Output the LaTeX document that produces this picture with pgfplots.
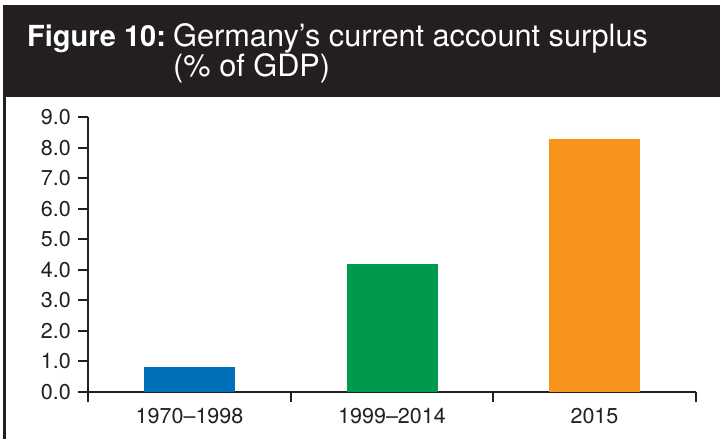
\documentclass[border=0pt]{standalone}
\usepackage{pgfplots}
\pgfplotsset{compat=1.18}
\usepackage{fontspec}
\setmainfont{TeX Gyre Heros}
\definecolor{darkc}{HTML}{231F20}
\definecolor{cblue}{HTML}{0070BA}
\definecolor{cgreen}{HTML}{009A4E}
\definecolor{corange}{HTML}{F7941E}
\begin{document}
\begin{tikzpicture}
\useasboundingbox (0pt,0pt) rectangle (720pt,-439pt);
\begin{scope}[x=1pt,y=-1pt]
\fill[darkc] (3,5) rectangle (720,97);
\draw[darkc, line width=3pt] (4.5,96) -- (4.5,439);
\node[anchor=base west, inner sep=0pt, text=white, font=\fontsize{29}{29}\selectfont\bfseries] at (27,46) {Figure 10:};
\node[anchor=base west, inner sep=0pt, text=white, font=\fontsize{30.7}{30.7}\selectfont] at (173,46) {Germany’s current account surplus};
\node[anchor=base west, inner sep=0pt, text=white, font=\fontsize{30.7}{30.7}\selectfont] at (173,76) {(\% of GDP)};
\end{scope}
\begin{axis}[
  at={(88.3pt,-391.7pt)}, anchor=south west,
  scale only axis, width=607.4pt, height=274.4pt,
  xmin=-0.5, xmax=2.5, ymin=0, ymax=9,
  axis x line*=bottom, axis y line*=left,
  axis line style={line width=2.2pt, draw=darkc, -},
  tick style={line width=2.2pt, draw=darkc},
  tick align=outside, major tick length=10pt,
  ybar, bar width=91pt,
  xtick={-0.5,0.5,1.5,2.5}, xticklabels={},
  extra x ticks={0,1,2},
  extra x tick labels={1970\textendash1998,1999\textendash2014,2015},
  extra x tick style={major tick length=0pt, tick style={draw=none}, xticklabel style={yshift=-13pt}},
  ytick={0,1,2,3,4,5,6,7,8,9},
  /pgf/number format/fixed,
  /pgf/number format/fixed zerofill,
  /pgf/number format/precision=1,
  /pgf/number format/assume math mode=true,
  yticklabel style={xshift=-4pt},
  ticklabel style={font=\fontsize{21.5}{24}\selectfont, text=darkc},
]
\addplot[fill=cblue, draw=none, bar shift=0pt] coordinates {(0,0.8)};
\addplot[fill=cgreen, draw=none, bar shift=0pt] coordinates {(1,4.2)};
\addplot[fill=corange, draw=none, bar shift=0pt] coordinates {(2,8.3)};
\end{axis}
\end{tikzpicture}
\end{document}
